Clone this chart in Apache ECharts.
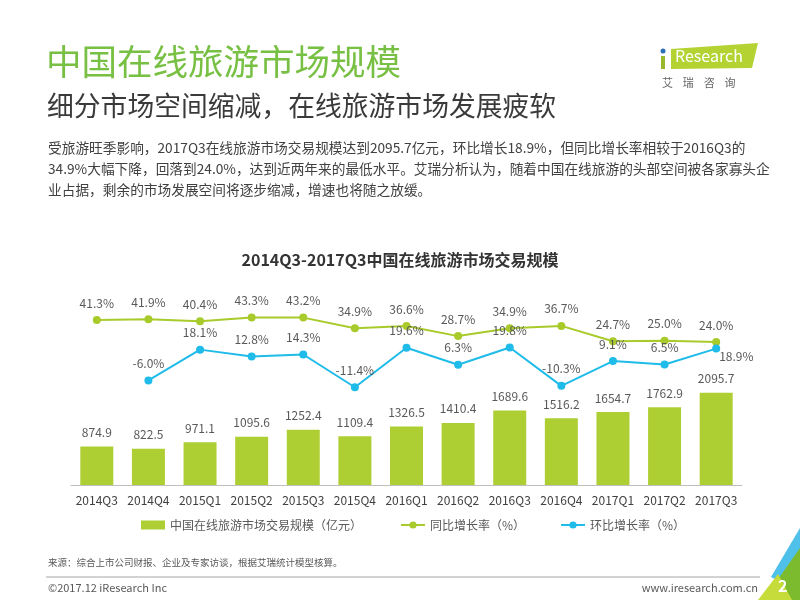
<!DOCTYPE html>
<html>
<head>
<meta charset="utf-8">
<script src="https://cdn.jsdelivr.net/npm/echarts@6/dist/echarts.min.js"></script>
<style>
  html, body { margin: 0; padding: 0; background: #fff; }
  #main { width: 800px; height: 600px; }
</style>
</head>
<body>
<div id="main"></div>
<script>
var quarters = ['2014Q3', '2014Q4', '2015Q1', '2015Q2', '2015Q3', '2015Q4', '2016Q1',
                '2016Q2', '2016Q3', '2016Q4', '2017Q1', '2017Q2', '2017Q3'];
var scaleData = [874.9, 822.5, 971.1, 1095.6, 1252.4, 1109.4, 1326.5, 1410.4, 1689.6, 1516.2, 1654.7, 1762.9, 2095.7];
var yoyData = [41.3, 41.9, 40.4, 43.3, 43.2, 34.9, 36.6, 28.7, 34.9, 36.7, 24.7, 25.0, 24.0];
var qoqData = ['-', -6.0, 18.1, 12.8, 14.3, -11.4, 19.6, 6.3, 19.8, -10.3, 9.1, 6.5, 18.9];
var seriesNames = ['中国在线旅游市场交易规模（亿元）', '同比增长率（%）', '环比增长率（%）'];

var bodyLines = [
    '受旅游旺季影响，2017Q3在线旅游市场交易规模达到2095.7亿元，环比增长18.9%，但同比增长率相较于2016Q3的',
    '34.9%大幅下降，回落到24.0%，达到近两年来的最低水平。艾瑞分析认为，随着中国在线旅游的头部空间被各家寡头企',
    '业占据，剩余的市场发展空间将逐步缩减，增速也将随之放缓。'
];

var FONT = '"Noto Sans CJK SC", "Noto Sans", sans-serif';
var chart = echarts.init(document.getElementById('main'), null, {renderer: 'canvas'});

var header = [
    {type: 'text', left: 46, top: 44, style: {text: '中国在线旅游市场规模', font: '35.5px ' + FONT, fill: '#78c043'}},
    {type: 'text', left: 47, top: 92, style: {text: '细分市场空间缩减，在线旅游市场发展疲软', font: '26.8px ' + FONT, fill: '#3a3a3a'}}
];
bodyLines.forEach(function (line, i) {
    header.push({type: 'text', left: 48, top: 141 + i * 21, style: {text: line, font: '13.7px ' + FONT, fill: '#404040'}});
});

// logo
var logo = [
    {type: 'polygon', shape: {points: [[671, 49], [758, 43], [752, 68], [671, 69]]}, style: {fill: '#b4d333'}},
    {type: 'rect', shape: {x: 661, y: 56, width: 4, height: 13}, style: {fill: '#9ab82c'}},
    {type: 'circle', shape: {cx: 663, cy: 51, r: 2.5}, style: {fill: '#2d6fb7'}},
    {type: 'text', left: 675, top: 48, style: {text: 'Research', font: '16px ' + FONT, fill: '#fff'}},
    {type: 'text', left: 662, top: 77, style: {text: '艾    瑞    咨    询', font: '11px ' + FONT, fill: '#666'}}
];

// footer
var footer = [
    {type: 'text', left: 48, top: 558, style: {text: '来源：综合上市公司财报、企业及专家访谈，根据艾瑞统计模型核算。', font: '9.5px ' + FONT, fill: '#595959'}},
    {type: 'line', shape: {x1: 46, y1: 577, x2: 760, y2: 577}, style: {stroke: '#a6a6a6', lineWidth: 1}},
    {type: 'text', left: 48, top: 582, style: {text: '©2017.12 iResearch Inc', font: '11px ' + FONT, fill: '#595959'}},
    {type: 'text', right: 42, top: 582, style: {text: 'www.iresearch.com.cn', font: '11px ' + FONT, fill: '#595959'}},
    {type: 'polygon', shape: {points: [[771, 577], [800, 528], [800, 552], [780, 582]]}, style: {fill: '#4fc0ea'}},
    {type: 'polygon', shape: {points: [[776, 582], [800, 548], [800, 600], [768, 600]]}, style: {fill: '#7dbb2e'}},
    {type: 'polygon', shape: {points: [[758, 600], [778, 574], [792, 600]]}, style: {fill: '#c6dc3a'}},
    {type: 'text', left: 778, top: 578, style: {text: '2', font: 'bold 16px ' + FONT, fill: '#fff'}}
];

var legendStyle = {fontSize: 12, color: '#595959', fontFamily: FONT};
var legendLefts = [136, 395, 555];

var option = {
    animation: false,
    textStyle: {fontFamily: FONT},
    title: {
        text: '2014Q3-2017Q3中国在线旅游市场交易规模',
        left: 'center',
        top: 247,
        textStyle: {fontSize: 16, fontWeight: 'bold', color: '#333', fontFamily: FONT}
    },
    graphic: header.concat(logo, footer),
    legend: seriesNames.map(function (name, i) {
        return {
            left: legendLefts[i],
            top: 514,
            itemWidth: 24,
            itemHeight: 9,
            itemGap: 4,
            textStyle: legendStyle,
            data: [i === 0 ? {name: name, icon: 'rect'} : {name: name}]
        };
    }),
    grid: {left: 71, right: 58, top: 300, bottom: 115},
    xAxis: {
        type: 'category',
        data: quarters,
        axisTick: {show: false},
        axisLine: {lineStyle: {color: '#bfbfbf'}},
        axisLabel: {color: '#404040', fontSize: 12, margin: 9, interval: 0}
    },
    yAxis: [
        {type: 'value', min: 0, max: 4200, show: false},
        {type: 'value', min: -88, max: 57, show: false}
    ],
    series: [
        {
            name: seriesNames[0],
            type: 'bar',
            data: scaleData,
            barWidth: 33,
            itemStyle: {color: '#aecf33'},
            label: {show: true, position: 'top', distance: 8, color: '#595959', fontSize: 12}
        },
        {
            name: seriesNames[1],
            type: 'line',
            yAxisIndex: 1,
            data: yoyData,
            symbol: 'circle',
            symbolSize: 8,
            lineStyle: {width: 2, color: '#a8cb2b'},
            itemStyle: {color: '#a8cb2b'},
            label: {
                show: true, position: 'top', distance: 7, color: '#595959', fontSize: 12,
                formatter: function (p) { return Number(p.value).toFixed(1) + '%'; }
            }
        },
        {
            name: seriesNames[2],
            type: 'line',
            yAxisIndex: 1,
            // last QoQ label sits to the right of its point
            data: qoqData.map(function (v, i) {
                if (i === qoqData.length - 1) {
                    return {value: v, label: {position: 'right', offset: [-8, 8]}};
                }
                return v;
            }),
            symbol: 'circle',
            symbolSize: 8,
            lineStyle: {width: 2, color: '#1fbbe9'},
            itemStyle: {color: '#1fbbe9'},
            label: {
                show: true, position: 'top', distance: 7, color: '#595959', fontSize: 12,
                formatter: function (p) { return Number(p.value).toFixed(1) + '%'; }
            }
        }
    ]
};
chart.setOption(option);
</script>
</body>
</html>
